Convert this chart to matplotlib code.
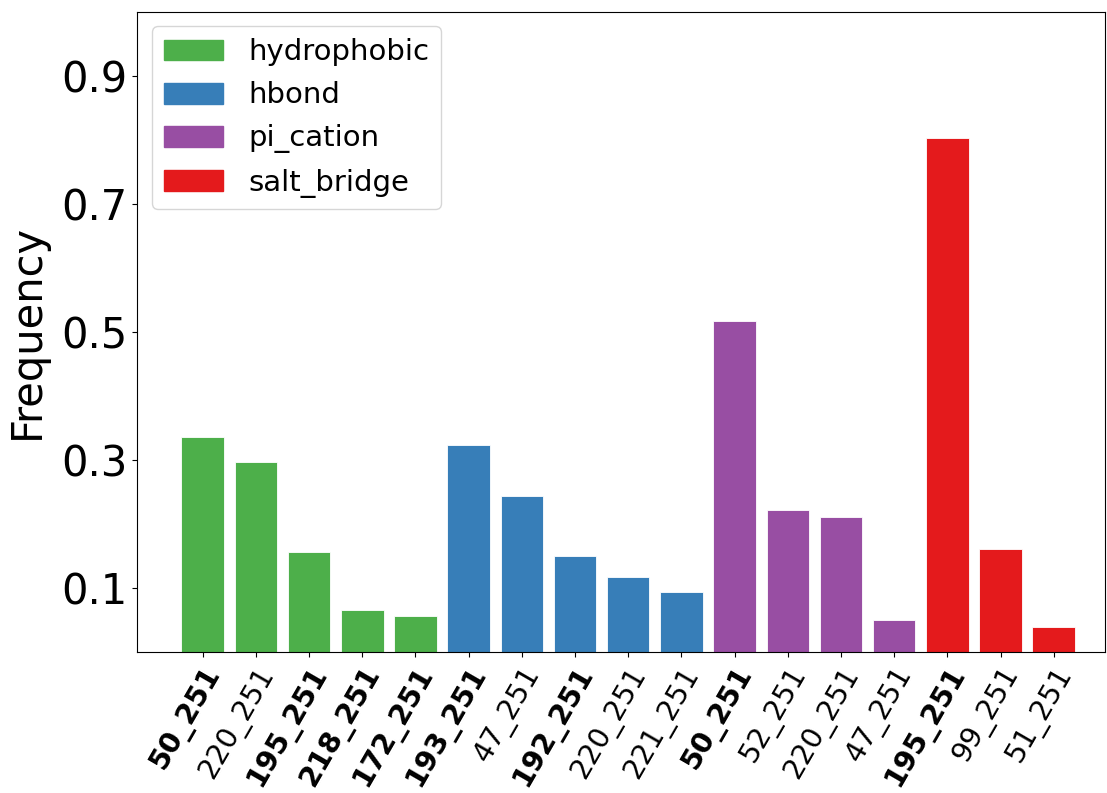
import matplotlib
matplotlib.use("Agg")
import matplotlib.pyplot as plt
from matplotlib.patches import Patch

# interaction frequencies per residue pair, grouped by interaction type
types = ["hydrophobic", "hbond", "pi_cation", "salt_bridge"]
colors = ["#4daf4a", "#377eb8", "#984ea3", "#e41a1c"]

hydrophobic_labels = ["50_251", "220_251", "195_251", "218_251", "172_251"]
hydrophobic_freq = [0.335, 0.296, 0.156, 0.065, 0.056]
hydrophobic_bold = [True, False, True, True, True]

hbond_labels = ["193_251", "47_251", "192_251", "220_251", "221_251"]
hbond_freq = [0.324, 0.244, 0.150, 0.117, 0.094]
hbond_bold = [True, False, True, False, False]

pi_cation_labels = ["50_251", "52_251", "220_251", "47_251"]
pi_cation_freq = [0.517, 0.221, 0.211, 0.050]
pi_cation_bold = [True, False, False, False]

salt_bridge_labels = ["195_251", "99_251", "51_251"]
salt_bridge_freq = [0.803, 0.161, 0.039]
salt_bridge_bold = [True, False, False]


def main():
    groups = [
        (hydrophobic_labels, hydrophobic_freq, hydrophobic_bold),
        (hbond_labels, hbond_freq, hbond_bold),
        (pi_cation_labels, pi_cation_freq, pi_cation_bold),
        (salt_bridge_labels, salt_bridge_freq, salt_bridge_bold),
    ]

    labels, freqs, bold, bar_colors = [], [], [], []
    for (lab, f, b), c in zip(groups, colors):
        labels += lab
        freqs += f
        bold += b
        bar_colors += [c] * len(lab)

    x = list(range(len(labels)))

    fig = plt.figure(figsize=(11.07, 7.93), dpi=100)
    ax = fig.add_axes([0.124, 0.178, 0.874, 0.807])
    ax.bar(x, freqs, width=0.8, color=bar_colors, edgecolor="white", linewidth=0.6)

    ax.set_xlim(-1.23, 16.96)
    ax.set_ylim(0, 1.0)
    ax.set_yticks([0.1, 0.3, 0.5, 0.7, 0.9])
    ax.tick_params(axis="y", labelsize=30)
    ax.set_ylabel("Frequency", fontsize=30)
    ax.yaxis.set_label_coords(-0.092, 0.5)

    ax.set_xticks(x)
    ax.set_xticklabels(labels, rotation=60, ha="right", rotation_mode="anchor", fontsize=20.5)
    for tick, b in zip(ax.get_xticklabels(), bold):
        if b:
            tick.set_fontweight("bold")

    handles = [Patch(color=c, label=t) for c, t in zip(colors, types)]
    ax.legend(handles=handles, loc="upper left", fontsize=21, handlelength=2.05,
              handleheight=0.72, handletextpad=0.85, labelspacing=0.52)

    fig.savefig("out.png", dpi=100)


if __name__ == "__main__":
    main()
